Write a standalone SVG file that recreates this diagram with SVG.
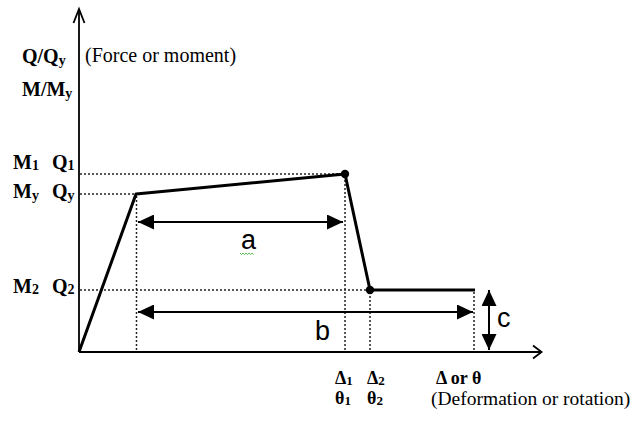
<svg xmlns="http://www.w3.org/2000/svg" width="636" height="423" viewBox="0 0 636 423">
<style>
.lbl{font-family:"Liberation Serif","Times New Roman",serif;font-weight:bold;font-size:20px;fill:#000}
.xl{font-family:"Liberation Serif","Times New Roman",serif;font-weight:bold;font-size:18px;fill:#000}
.reg{font-family:"Liberation Serif","Times New Roman",serif;font-size:20px;fill:#000}
.reg2{font-family:"Liberation Serif","Times New Roman",serif;font-size:19.5px;fill:#000}
.sub{font-size:14px}
.sub2{font-size:13px}
.sans{font-family:"Liberation Sans",Arial,sans-serif;font-size:27px;fill:#000}
.dot{stroke:#222;stroke-width:1.5;stroke-dasharray:2 2;fill:none}
.axis{stroke:#000;stroke-width:1.8;fill:none}
.curve{stroke:#000;stroke-width:3;fill:none;stroke-linejoin:round}
.dim{stroke:#000;stroke-width:2;fill:none}
</style>
<defs>
<marker id="tri" viewBox="0 0 16 15" refX="16" refY="7.5" markerWidth="16" markerHeight="15" markerUnits="userSpaceOnUse" orient="auto-start-reverse">
<path d="M0,0 L16,7.5 L0,15 Z" fill="#000"/>
</marker>
</defs>
<rect width="636" height="423" fill="#fff"/>
<g id="axes">
<line class="axis" x1="79" y1="352" x2="79" y2="9"/>
<polyline class="axis" points="73.5,23 79,9 84.5,23"/>
<line class="axis" x1="79" y1="352" x2="541" y2="352"/>
<polyline class="axis" points="533,345.5 541.5,352 533,358.5"/>
</g>
<g id="guides">
<line class="dot" x1="80" y1="174" x2="344" y2="174"/>
<line class="dot" x1="80" y1="194" x2="136" y2="194"/>
<line class="dot" x1="80" y1="290" x2="369" y2="290"/>
<line class="dot" x1="136.5" y1="196" x2="136.5" y2="351"/>
<line class="dot" x1="345" y1="176" x2="345" y2="351"/>
<line class="dot" x1="370" y1="292" x2="370" y2="351"/>
<line class="dot" x1="474" y1="292" x2="474" y2="351"/>
</g>
<g id="curve">
<polyline class="curve" points="79,352 136,194 345,174 370,290 475,290"/>
<circle cx="345" cy="174" r="4.2" fill="#000"/>
<circle cx="370" cy="290" r="4.2" fill="#000"/>
</g>
<g id="connectors">
<line class="dim" x1="138" y1="222" x2="343" y2="222" marker-start="url(#tri)" marker-end="url(#tri)"/>
<line class="dim" x1="138" y1="312" x2="473" y2="312" marker-start="url(#tri)" marker-end="url(#tri)"/>
<line class="dim" x1="489" y1="290" x2="489" y2="350" marker-start="url(#tri)" marker-end="url(#tri)"/>
</g>
<g id="dim-labels">
<text class="sans" x="241" y="249">a</text>
<path d="M240,253 l1.5,1.5 l1.5,-1.5 l1.5,1.5 l1.5,-1.5 l1.5,1.5 l1.5,-1.5 l1.5,1.5 l1.5,-1.5 l1.5,1.5" stroke="#3a3" stroke-width="0.8" fill="none"/>
<text class="sans" x="315" y="340">b</text>
<text class="sans" x="497" y="327">c</text>
</g>
<g id="y-labels">
<text class="lbl" x="22" y="63">Q/Q<tspan class="sub" dy="2">y</tspan></text>
<text class="reg" x="85" y="62">(Force or moment)</text>
<text class="lbl" x="22" y="96">M/M<tspan class="sub" dy="2">y</tspan></text>
<text class="lbl" x="13" y="169">M<tspan class="sub" dy="1">1</tspan></text>
<text class="lbl" x="52" y="169">Q<tspan class="sub" dy="1">1</tspan></text>
<text class="lbl" x="13" y="198">M<tspan class="sub" dy="2">y</tspan></text>
<text class="lbl" x="52" y="198">Q<tspan class="sub" dy="2">y</tspan></text>
<text class="lbl" x="13" y="293">M<tspan class="sub" dy="1">2</tspan></text>
<text class="lbl" x="52" y="293">Q<tspan class="sub" dy="1">2</tspan></text>
</g>
<g id="x-labels">
<text class="xl" x="335" y="384">Δ<tspan class="sub2" dy="1">1</tspan></text>
<text class="xl" x="367" y="384">Δ<tspan class="sub2" dy="1">2</tspan></text>
<text class="xl" x="335" y="404">θ<tspan class="sub2" dy="1">1</tspan></text>
<text class="xl" x="367" y="404">θ<tspan class="sub2" dy="1">2</tspan></text>
<text class="xl" x="436" y="384">Δ or θ</text>
<text class="reg2" x="431" y="405">(Deformation or rotation)</text>
</g>
</svg>
